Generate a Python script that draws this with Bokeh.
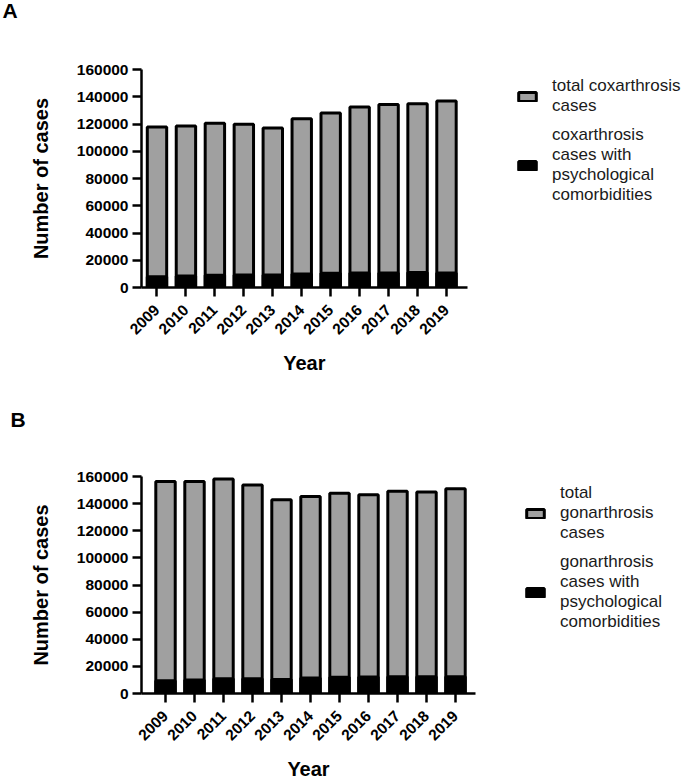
import math
from bokeh.plotting import figure
from bokeh.models import (Range1d, FixedTicker, BasicTickFormatter, Legend,
                          LegendItem, Label, ColumnDataSource)
from bokeh.layouts import column
from bokeh.embed import file_html
from bokeh.resources import INLINE

# ---------------- data ----------------
years = [2009, 2010, 2011, 2012, 2013, 2014, 2015, 2016, 2017, 2018, 2019]
hip_total = [117800, 118500, 120500, 119800, 117100, 123900, 128100, 132500, 134400, 134900, 136900]
hip_psych = [7950, 8450, 8950, 9150, 9150, 9900, 10400, 10600, 10700, 11100, 10700]
knee_total = [156400, 156400, 158100, 153700, 142900, 145200, 147600, 146600, 149100, 148600, 151000]
knee_psych = [9400, 9900, 10900, 10900, 10400, 11400, 11900, 12100, 12300, 12300, 12300]
y_ticks = [0, 20000, 40000, 60000, 80000, 100000, 120000, 140000, 160000]

hip_labels = ["total coxarthrosis\ncases",
              "coxarthrosis\ncases with\npsychological\ncomorbidities"]
knee_labels = ["total\ngonarthrosis\ncases",
               "gonarthrosis\ncases with\npsychological\ncomorbidities"]
x_title = "Year"
y_title = "Number of cases"

FONT = "Liberation Sans"
GRAY = "#a0a0a0"
BL = 141  # shared left border (the column aligns the two frames)


def make_panel(letter, total, psych, labels, width, height, bt, fh,
               x_start, x_axis_end, px_per_cat, leg_xy, letter_xy, year_y):
    idx = list(range(len(years)))
    src = ColumnDataSource(dict(x=idx, total=total, psych=psych))
    fw = width - BL
    x_end = x_start + fw / px_per_cat
    p = figure(width=width, height=height, output_backend="svg",
               toolbar_location=None,
               x_range=Range1d(x_start, x_end),
               y_range=Range1d(0, 160000),
               min_border_left=BL, min_border_top=bt,
               min_border_right=0,
               min_border_bottom=height - bt - fh)
    p.outline_line_color = None
    p.grid.visible = False
    p.background_fill_color = "white"
    p.border_fill_color = "white"

    r1 = p.vbar(x="x", top="total", bottom=0, width=0.67, source=src,
                fill_color=GRAY, line_color="black", line_width=3)
    r2 = p.vbar(x="x", top="psych", bottom=0, width=0.67, source=src,
                fill_color="black", line_color="black", line_width=3)

    for ax in (p.xaxis[0], p.yaxis[0]):
        ax.axis_line_width = 2.5
        ax.axis_line_color = "black"
        ax.major_tick_line_width = 2.5
        ax.major_tick_line_color = "black"
        ax.major_tick_out = 9
        ax.major_tick_in = 0
        ax.minor_tick_line_color = None
        ax.major_label_text_font = FONT
        ax.major_label_text_font_style = "bold"
        ax.major_label_text_font_size = "15.5px"
        ax.major_label_text_color = "black"
        ax.axis_label_text_font = FONT
        ax.axis_label_text_font_style = "bold"
        ax.axis_label_text_font_size = "20px"
        ax.axis_label_text_color = "black"

    p.xaxis.ticker = FixedTicker(ticks=idx)
    p.xaxis.bounds = (x_start, x_axis_end)
    p.xaxis.major_label_overrides = {i: str(y) for i, y in zip(idx, years)}
    p.xaxis.major_label_orientation = math.pi / 4
    p.xaxis.major_label_standoff = 11

    p.yaxis.ticker = FixedTicker(ticks=y_ticks)
    p.yaxis.formatter = BasicTickFormatter(use_scientific=False)
    p.yaxis.major_label_standoff = 4
    p.yaxis.axis_label = y_title
    p.yaxis.axis_label_standoff = 22

    legend = Legend(items=[LegendItem(label=labels[0], renderers=[r1]),
                           LegendItem(label=labels[1], renderers=[r2])],
                    location=leg_xy, padding=0, margin=0, spacing=9,
                    label_standoff=14, glyph_width=22, glyph_height=11,
                    border_line_alpha=0, background_fill_alpha=0,
                    label_text_font=FONT, label_text_font_size="17px",
                    label_text_color="#1a1a1a", label_text_line_height=1.21)
    p.add_layout(legend, "center")

    # panel letter (first "above" panel, sits directly on the frame)
    p.add_layout(Label(x=letter_xy[0], y=letter_xy[1], x_units="screen",
                       y_units="screen", text=letter, text_font=FONT,
                       text_font_style="bold", text_font_size="21px",
                       text_color="black", text_baseline="alphabetic"),
                 "above")
    # x-axis title, centred on the drawn axis
    p.add_layout(Label(x=(x_start + x_axis_end) / 2, y=year_y, x_units="data",
                       y_units="screen", text=x_title, text_font=FONT,
                       text_font_style="bold", text_font_size="20px",
                       text_color="black", text_align="center",
                       text_baseline="alphabetic"),
                 "above")
    return p


pA = make_panel("A", hip_total, hip_psych, hip_labels,
                width=685, height=380, bt=69, fh=218,
                x_start=-0.535, x_axis_end=10.715, px_per_cat=28.95,
                leg_xy=(375, 82), letter_xy=(-139, 59), year_y=-316)
pB = make_panel("B", knee_total, knee_psych, knee_labels,
                width=685, height=398, bt=96, fh=217,
                x_start=-0.828, x_axis_end=10.69, px_per_cat=29.0,
                leg_xy=(383, 61), letter_xy=(-131, 57), year_y=-315)

layout = column(pA, pB, spacing=0)
open("out.html", "w").write(file_html(layout, INLINE))
